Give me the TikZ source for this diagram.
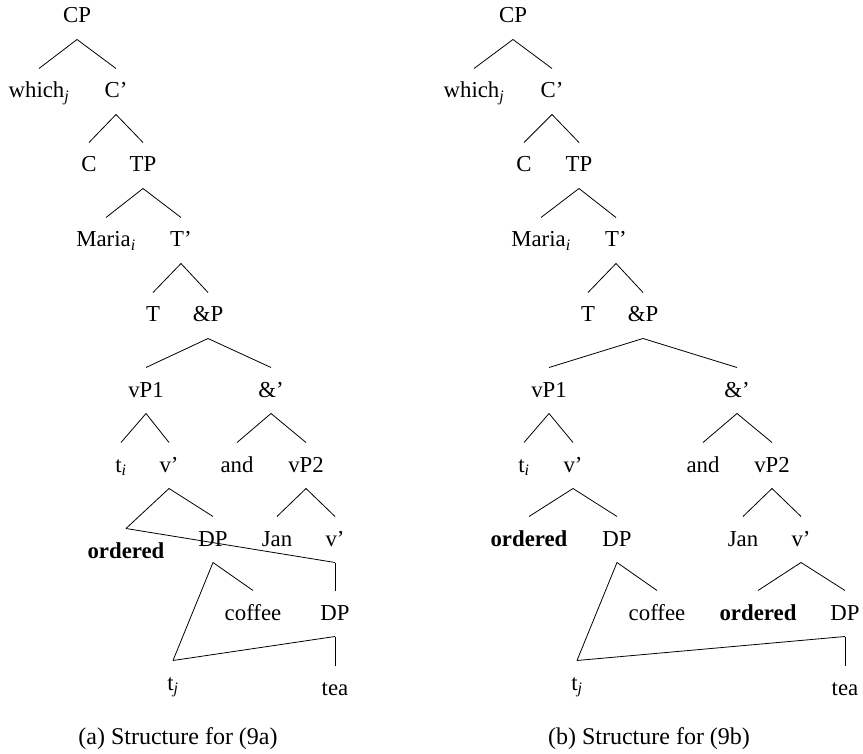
\documentclass[tikz,border=0pt]{standalone}
\usepackage{fontspec}
\setmainfont{Liberation Serif}
\newcommand{\sbi}[1]{\textsubscript{\textit{#1}}}
\begin{document}
\begin{tikzpicture}[x=1pt,y=-1pt,
  font=\fontsize{22.8}{27}\selectfont,
  lbl/.style={anchor=base, text height=29.5pt, text depth=16.5pt, inner sep=0pt, outer sep=0pt},
  captext/.style={anchor=base, inner sep=0pt, font=\fontsize{24}{28}\selectfont},
  edge/.style={line width=0.8pt, line join=miter}]
\useasboundingbox (0,0) rectangle (863,754);
% ---------- left tree (a) ----------
\node[lbl] (aCP) at (77,23) {CP};
\node[lbl] (awh) at (39,98) {which\sbi{j}};
\node[lbl] (aCb) at (116,98) {C’};
\node[lbl] (aC) at (89,172) {C};
\node[lbl] (aTP) at (143,172) {TP};
\node[lbl] (aMa) at (106,247) {Maria\sbi{i}};
\node[lbl] (aTb) at (181,247) {T’};
\node[lbl] (aT) at (153,322) {T};
\node[lbl] (aAP) at (208,322) {\&P};
\node[lbl] (avP1) at (146,397) {vP1};
\node[lbl] (aAb) at (271,397) {\&’};
\node[lbl] (ati) at (121,472) {t\sbi{i}};
\node[lbl] (avb) at (169,472) {v’};
\node[lbl] (aand) at (237,472) {and};
\node[lbl] (avP2) at (306,472) {vP2};
\node[lbl] (aord) at (126,558) {\textbf{ordered}};
\node[lbl] (aDP1) at (213,546) {DP};
\node[lbl] (aJan) at (277,546) {Jan};
\node[lbl] (avb2) at (335,546) {v’};
\node[lbl] (acof) at (253,620) {coffee};
\node[lbl] (aDP2) at (335,620) {DP};
\node[lbl] (atj) at (173,690) {t\sbi{j}};
\node[lbl] (atea) at (335,695) {tea};
\node[captext] (acap) at (178,744) {(a) Structure for (9a)};
\foreach \p/\c in {aCP/awh,aCP/aCb,aCb/aC,aCb/aTP,aTP/aMa,aTP/aTb,aTb/aT,aTb/aAP,
  aAP/avP1,aAP/aAb,avP1/ati,avP1/avb,aAb/aand,aAb/avP2,avb/aord,avb/aDP1,
  avP2/aJan,avP2/avb2,avb2/aord,avb2/aDP2,aDP1/atj,aDP1/acof,aDP2/atj,aDP2/atea}
  \draw[edge] (\p.south) -- (\c.north);
% ---------- right tree (b) ----------
\node[lbl] (bCP) at (513,23) {CP};
\node[lbl] (bwh) at (474,98) {which\sbi{j}};
\node[lbl] (bCb) at (552,98) {C’};
\node[lbl] (bC) at (524,172) {C};
\node[lbl] (bTP) at (579,172) {TP};
\node[lbl] (bMa) at (541,247) {Maria\sbi{i}};
\node[lbl] (bTb) at (616,247) {T’};
\node[lbl] (bT) at (588,322) {T};
\node[lbl] (bAP) at (643,322) {\&P};
\node[lbl] (bvP1) at (549,397) {vP1};
\node[lbl] (bAb) at (737,397) {\&’};
\node[lbl] (bti) at (524,472) {t\sbi{i}};
\node[lbl] (bvb) at (573,472) {v’};
\node[lbl] (band) at (703,472) {and};
\node[lbl] (bvP2) at (772,472) {vP2};
\node[lbl] (bord) at (529,546) {\textbf{ordered}};
\node[lbl] (bDP1) at (617,546) {DP};
\node[lbl] (bJan) at (743,546) {Jan};
\node[lbl] (bvb2) at (801,546) {v’};
\node[lbl] (bcof) at (657,620) {coffee};
\node[lbl] (bord2) at (758,620) {\textbf{ordered}};
\node[lbl] (bDP2) at (845,620) {DP};
\node[lbl] (btj) at (577,690) {t\sbi{j}};
\node[lbl] (btea) at (845,695) {tea};
\node[captext] (bcap) at (649,744) {(b) Structure for (9b)};
\foreach \p/\c in {bCP/bwh,bCP/bCb,bCb/bC,bCb/bTP,bTP/bMa,bTP/bTb,bTb/bT,bTb/bAP,
  bAP/bvP1,bAP/bAb,bvP1/bti,bvP1/bvb,bAb/band,bAb/bvP2,bvb/bord,bvb/bDP1,
  bvP2/bJan,bvP2/bvb2,bDP1/btj,bDP1/bcof,bvb2/bord2,bvb2/bDP2,bDP2/btj,bDP2/btea}
  \draw[edge] (\p.south) -- (\c.north);
\end{tikzpicture}
\end{document}
